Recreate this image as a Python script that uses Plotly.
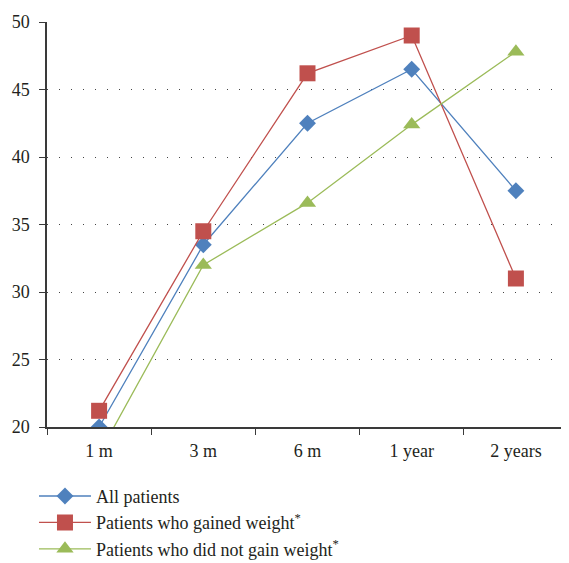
import plotly.graph_objects as go

categories = ["1 m", "3 m", "6 m", "1 year", "2 years"]
all_patients = [20.0, 33.5, 42.5, 46.5, 37.5]
gained_weight = [21.2, 34.5, 46.2, 49.0, 31.0]
not_gained = [18.0, 32.0, 36.6, 42.4, 47.8]
y_ticks = [20, 25, 30, 35, 40, 45, 50]

FONT = "Liberation Serif"

fig = go.Figure()
series = [
    ("All patients", all_patients, "#4F81BD", "diamond", 13),
    ("Patients who gained weight<sup>*</sup>", gained_weight, "#C0504D", "square", 16),
    ("Patients who did not gain weight<sup>*</sup>", not_gained, "#9BBB59", "triangle-up", 15),
]
for name, vals, color, sym, sz in series:
    fig.add_trace(go.Scatter(
        x=categories, y=vals, name=name, mode="lines+markers",
        line=dict(color=color, width=1.3),
        marker=dict(symbol=sym, size=sz, color=color, line=dict(width=0)),
    ))

fig.update_layout(
    width=561, height=555,
    margin=dict(l=39, r=1, t=14, b=136, autoexpand=False),
    paper_bgcolor="white", plot_bgcolor="white",
    font=dict(family=FONT, size=18, color="#231F20"),
    showlegend=True,
    legend=dict(
        x=-0.025, xref="paper", y=0.1535, yref="container",
        xanchor="left", yanchor="top",
        font=dict(family=FONT, size=18, color="#231F20"),
        tracegroupgap=0, itemwidth=52,
        bgcolor="rgba(0,0,0,0)",
    ),
    xaxis=dict(
        type="category", range=[-0.5, 4.5],
        showline=True, linecolor="#3a3a3a", linewidth=1.5,
        ticks="outside", ticklen=6, tickcolor="#3a3a3a", tickwidth=1.2,
        tickson="boundaries", showgrid=False, zeroline=False,
        tickfont=dict(family=FONT, size=18), ticklabelstandoff=7,
        automargin=False,
    ),
    yaxis=dict(
        range=[20, 50], tickvals=y_ticks,
        showline=True, linecolor="#3a3a3a", linewidth=1.5,
        ticks="outside", ticklen=6, tickcolor="#3a3a3a", tickwidth=1.2,
        showgrid=True, gridcolor="#444444", gridwidth=1, griddash="1px,11px",
        zeroline=False, tickfont=dict(family=FONT, size=18),
        ticklabelstandoff=6, automargin=False,
    ),
)

fig.write_html("out.html")
